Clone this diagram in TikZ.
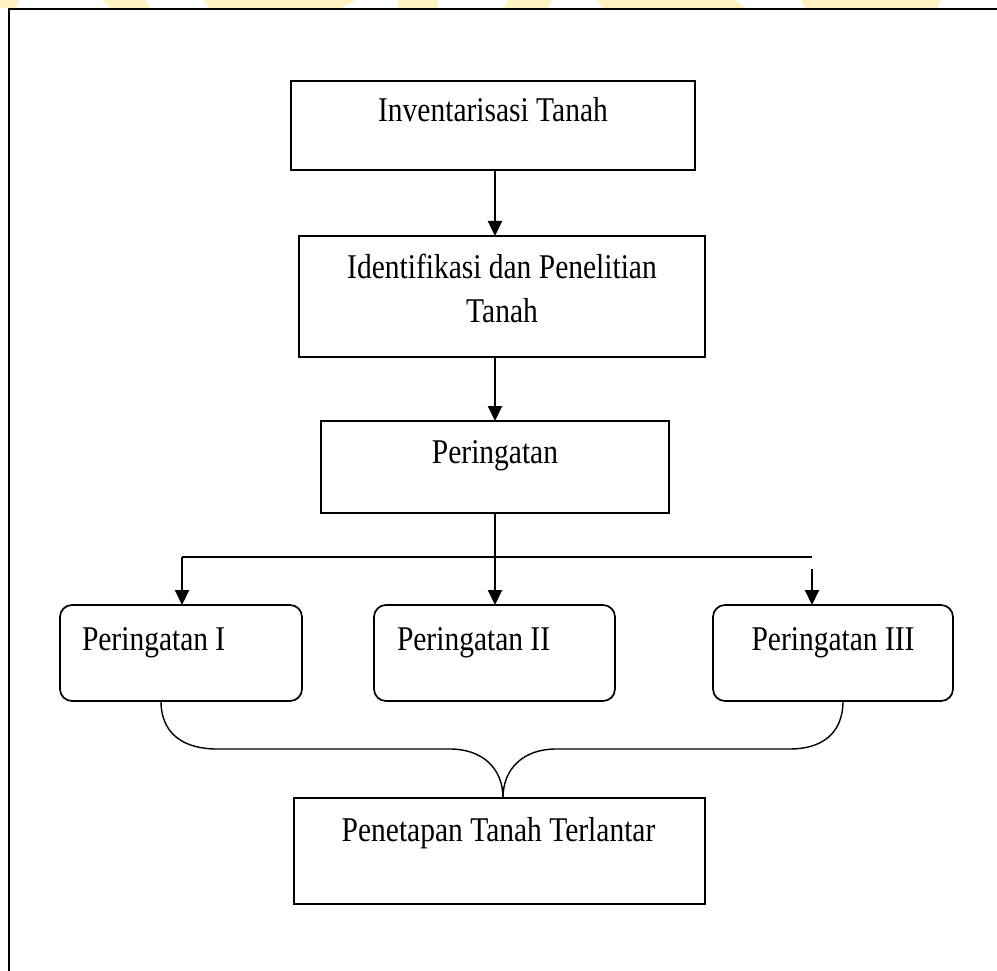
\documentclass[tikz,border=0pt]{standalone}
\usepackage{fontspec}
\setmainfont[FakeStretch=0.85]{Liberation Serif}
\usetikzlibrary{arrows.meta,calc}
\definecolor{wm}{RGB}{255,243,195}
\begin{document}
\begin{tikzpicture}[x=1pt,y=-1pt,
  box/.style={draw, line width=1.7pt, inner sep=0pt, outer sep=0pt},
  rbox/.style={box, rounded corners=12pt},
  txt/.style={inner sep=0pt, outer sep=0pt, font=\fontsize{34.7pt}{44pt}\selectfont},
  arr/.style={line width=2pt, -{Triangle[length=15pt,width=14pt]}},
  ln/.style={line width=1.4pt}]
\useasboundingbox (0,0) rectangle (997,971);
% watermark fragments
\fill[wm] (0,0) -- (19,0) -- (16,8) -- (0,8) -- cycle;
\fill[wm] (102,0) -- (146,0) -- (150,8) -- (110,8) -- cycle;
\fill[wm] (203,0) -- (356,0) -- (342,8) -- (210,8) -- cycle;
\fill[wm] (397,0) -- (439,0) -- (437,8) -- (399,8) -- cycle;
\fill[wm] (509,0) -- (553,0) -- (548,8) -- (503,8) -- cycle;
\fill[wm] (598,0) -- (735,0) -- (746,8) -- (602,8) -- cycle;
\fill[wm] (801,0) -- (941,0) -- (937,8) -- (805,8) -- cycle;
% frame
\draw[line width=2.2pt] (9,971) -- (9,9);
\draw[line width=2.8pt] (8,9) -- (997,9);
% boxes
\node[box, minimum width=404pt, minimum height=89pt] (b1) at (493,125.5) {};
\node[box, minimum width=406pt, minimum height=121pt] (b2) at (502,296.5) {};
\node[box, minimum width=348pt, minimum height=92pt] (b3) at (495,467) {};
\node[rbox, minimum width=242pt, minimum height=96pt] (p1) at (181,653) {};
\node[rbox, minimum width=241pt, minimum height=96pt] (p2) at (494.5,653) {};
\node[rbox, minimum width=240pt, minimum height=96pt] (p3) at (833,653) {};
\node[box, minimum width=411pt, minimum height=106pt] (b4) at (499.5,851) {};
% texts
\node[txt, anchor=base] (t1) at (493,122) {Inventarisasi Tanah};
\node[txt, anchor=base] (t2a) at (502,278) {Identifikasi dan Penelitian};
\node[txt, anchor=base] (t2b) at (502,322) {Tanah};
\node[txt, anchor=base] (t3) at (495,463) {Peringatan};
\node[txt, anchor=base west] (tp1) at (82,650) {Peringatan I};
\node[txt, anchor=base west] (tp2) at (397,650) {Peringatan II};
\node[txt, anchor=base] (tp3) at (833,650) {Peringatan III};
\node[txt, anchor=base] (t4) at (498.5,841) {Penetapan Tanah Terlantar};
% connectors
\coordinate (ax) at (495,0);
\coordinate (hl) at (182,557);
\coordinate (hr) at (812,557);
\coordinate (hm) at (495,557);
\coordinate (rs) at (812,569);
\draw[arr] (b1.south -| ax) -- (b2.north -| ax);
\draw[arr] (b2.south -| ax) -- (b3.north -| ax);
\draw[ln] (hl) -- (hr);
\draw[ln] (b3.south) -- (hm);
\draw[arr] (hm) -- (p2.north -| hm);
\draw[arr] (hl) -- (p1.north -| hl);
\draw[arr] (rs) -- (p3.north -| rs);
% brace
\coordinate (bl) at (161,701);
\coordinate (br) at (843,701);
\coordinate (bm) at (b4.north -| 503,0);
\draw[ln] (bl) .. controls (161,735) and (185,749) .. (217,749) -- (450,749)
  .. controls (482,749) and (503,768) .. (bm);
\draw[ln] (br) .. controls (843,735) and (820,749) .. (790,749) -- (556,749)
  .. controls (524,749) and (503,768) .. (bm);
\end{tikzpicture}
\end{document}
